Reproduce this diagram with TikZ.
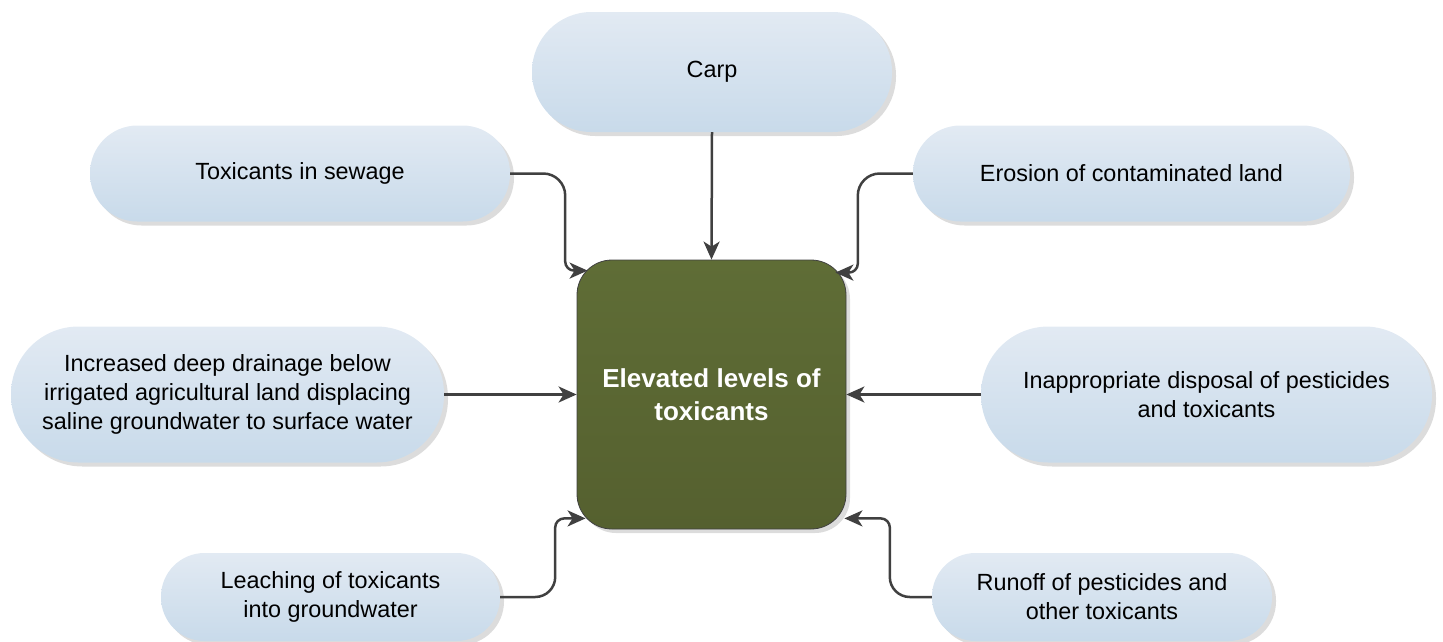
\documentclass[tikz,border=0pt]{standalone}
\usepackage{fontspec}
\setmainfont{Liberation Sans}
\usetikzlibrary{arrows.meta,shadows}
\definecolor{pilltop}{RGB}{226,234,243}
\definecolor{pillbot}{RGB}{200,218,234}
\definecolor{boxtop}{RGB}{95,109,54}
\definecolor{boxbot}{RGB}{85,96,47}
\definecolor{linegray}{RGB}{64,64,64}

\begin{document}
\begin{tikzpicture}[x=1pt,y=-1pt,
  pill/.style 2 args={rectangle,align=center,minimum width=#1pt,minimum height=#2pt,
    rounded corners=#2pt/2-0.5pt,top color=pilltop,bottom color=pillbot,
    font=\fontsize{23.4}{29}\selectfont,
    drop shadow={shadow xshift=4pt,shadow yshift=-4pt,fill=black!30,opacity=0.45}},
  mainbox/.style={rectangle,align=center,minimum size=269pt,rounded corners=35pt,
    draw=linegray,line width=0.8pt,top color=boxtop,bottom color=boxbot,text=white,
    font=\fontsize{26}{33}\selectfont\bfseries,
    drop shadow={shadow xshift=4pt,shadow yshift=-4pt,fill=black!30,opacity=0.45}},
  conn/.style={draw=linegray,line width=2.5pt,
    -{Stealth[length=18pt,width=16pt,inset=5pt]}}]
\useasboundingbox (0,0) rectangle (1443,641);

\node[mainbox] (box) at (711.5,394.5) {Elevated levels of\\toxicants};

\node[pill={360}{120}] (carp) at (712,72) {Carp};
\node[pill={420}{96}] (sewage) at (300,173.5) {Toxicants in sewage};
\node[pill={437}{96}] (erosion) at (1131.5,173.5) {Erosion of contaminated land};
\node[pill={433}{136}] (drainage) at (227.5,394.5) {Increased deep drainage below\\irrigated agricultural land displacing\\saline groundwater to surface water};
\node[pill={451}{136}] (disposal) at (1206.5,394.5) {Inappropriate disposal of pesticides\\and toxicants};
\node[pill={339}{88}] (leaching) at (330.5,597) {Leaching of toxicants\\into groundwater};
\node[pill={340}{88}] (runoff) at (1102,597) {Runoff of pesticides and\\other toxicants};

% ends on the rounded corners of the box
\coordinate (nw) at ([shift={(11,11)}]box.north west);
\coordinate (ne) at ([shift={(-11,13)}]box.north east);
\coordinate (sw) at ([shift={(9,-11)}]box.south west);
\coordinate (se) at ([shift={(-2,-11)}]box.south east);

\draw[conn] (carp.south) -- (box.north);
\draw[conn] (drainage.east) -- (box.west);
\draw[conn] (disposal.west) -- (box.east);
\draw[conn] (sewage.east) [rounded corners=22pt] -- ++(55,0) [rounded corners=9pt] |- (nw);
\draw[conn] (erosion.west) [rounded corners=22pt] -- ++(-55,0) [rounded corners=9pt] |- (ne);
\draw[conn] (leaching.east) [rounded corners=20pt] -- ++(55,0) [rounded corners=9pt] |- (sw);
\draw[conn] (runoff.west) [rounded corners=20pt] -- ++(-42,0) [rounded corners=9pt] |- (se);
\end{tikzpicture}
\end{document}
